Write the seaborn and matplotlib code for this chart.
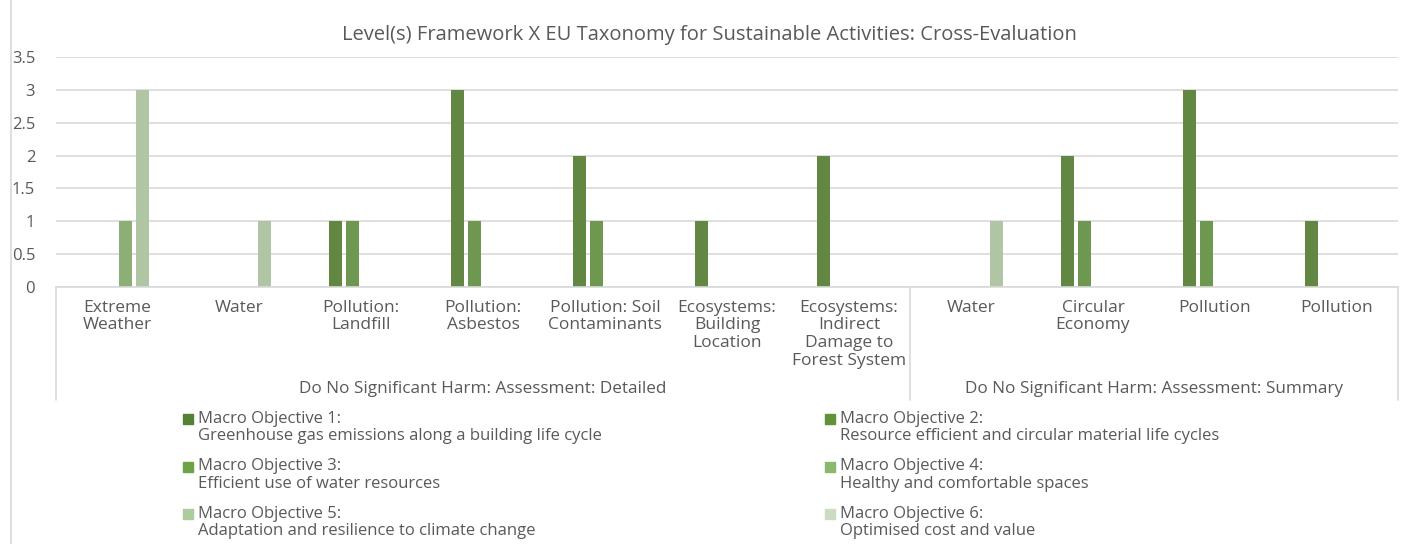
"""Cross-evaluation bar chart: Level(s) framework vs EU taxonomy"""

import pandas as pd
import matplotlib
matplotlib.use("Agg")
import matplotlib.pyplot as plt
import matplotlib.transforms as mtransforms
from matplotlib.lines import Line2D
from matplotlib.patches import Rectangle
import seaborn as sns

# categories (two-level axis)
categories = [
    "Extreme\nWeather", "Water", "Pollution:\nLandfill", "Pollution:\nAsbestos",
    "Pollution: Soil\nContaminants", "Ecosystems:\nBuilding\nLocation",
    "Ecosystems:\nIndirect\nDamage to\nForest System",
    "Water", "Circular\nEconomy", "Pollution", "Pollution",
]
groups = [
    "Do No Significant Harm: Assessment: Detailed",
    "Do No Significant Harm: Assessment: Summary",
]
group_sizes = [7, 4]

series_names = [
    "Macro Objective 1:\nGreenhouse gas emissions along a building life cycle",
    "Macro Objective 2:\nResource efficient and circular material life cycles",
    "Macro Objective 3:\nEfficient use of water resources",
    "Macro Objective 4:\nHealthy and comfortable spaces",
    "Macro Objective 5:\nAdaptation and resilience to climate change",
    "Macro Objective 6:\nOptimised cost and value",
]
mo1 = [0, 0, 0, 0, 0, 0, 0, 0, 0, 0, 0]
mo2 = [0, 0, 1, 3, 2, 1, 2, 0, 2, 3, 1]
mo3 = [0, 0, 1, 1, 1, 0, 0, 0, 1, 1, 0]
mo4 = [1, 0, 0, 0, 0, 0, 0, 0, 0, 0, 0]
mo5 = [3, 1, 0, 0, 0, 0, 0, 1, 0, 0, 0]
mo6 = [0, 0, 0, 0, 0, 0, 0, 0, 0, 0, 0]

colors = ["#548235", "#609238", "#6ca344", "#8ab96c", "#adcb9d", "#cbdcc3"]

keys = [f"c{i}" for i in range(len(categories))]
rows = []
for name, vals in zip(series_names, [mo1, mo2, mo3, mo4, mo5, mo6]):
    for k, v in zip(keys, vals):
        rows.append({"cat": k, "series": name, "value": v})
df = pd.DataFrame(rows)

W, H = 1409, 544
sns.set_theme(style="white")
plt.rcParams["font.family"] = ["Open Sans", "DejaVu Sans"]
txt = "#595959"
grid = "#d9d9d9"


def fx(x):
    return x / W


def fy(y):
    return 1 - y / H


fig = plt.figure(figsize=(W / 100, H / 100), dpi=100)
ax = fig.add_axes([fx(56), fy(287), fx(1398) - fx(56), fy(57) - fy(287)])

sns.barplot(
    data=df, x="cat", y="value", hue="series", order=keys,
    hue_order=series_names, palette=colors, width=0.82, gap=0.22,
    linewidth=0, legend=False, ax=ax,
)

ax.set_xlim(-0.5, len(keys) - 0.5)
ax.set_ylim(0, 3.5)
ax.set_yticks([0, 0.5, 1, 1.5, 2, 2.5, 3, 3.5])
ax.set_yticklabels(["0", "0.5", "1", "1.5", "2", "2.5", "3", "3.5"])
ax.yaxis.grid(True, color=grid, linewidth=1.2)
ax.set_axisbelow(True)
for s in ax.spines.values():
    s.set_visible(False)
ax.set_xlabel("")
ax.set_ylabel("")
ax.set_xticks(range(len(keys)))
ax.set_xticklabels(categories, color=txt, fontsize=12.5, linespacing=1.16)
ax.tick_params(axis="x", length=0, pad=9)
ax.tick_params(axis="y", length=0, pad=15, labelcolor=txt, labelsize=12)

# category box lines
for x0, y0, x1, y1 in [(56, 287, 1398, 287), (56, 287, 56, 400),
                       (910, 287, 910, 400), (1398, 287, 1398, 400),
                       (11, 0, 11, 544)]:
    fig.add_artist(Line2D([fx(x0), fx(x1)], [fy(y0), fy(y1)], color=grid, lw=1.2))

# group labels
trans = mtransforms.blended_transform_factory(ax.transData, fig.transFigure)
start = 0
for g, n in zip(groups, group_sizes):
    xc = start + (n - 1) / 2
    ax.text(xc, fy(389), g, transform=trans, ha="center", va="center",
            color=txt, fontsize=12.3)
    start += n

fig.text(fx(709), fy(35), "Level(s) Framework X EU Taxonomy for Sustainable Activities: Cross-Evaluation",
         ha="center", va="center", color=txt, fontsize=14.5)

# legend, two columns
for i, (name, c) in enumerate(zip(series_names, colors)):
    col, row = i % 2, i // 2
    px = 183 if col == 0 else 825
    py = 419 + row * 47.5
    fig.add_artist(Rectangle((fx(px), fy(py + 5)), fx(10), 10 / H, color=c))
    first, second = name.split("\n")
    fig.text(fx(px + 15), fy(py), first, ha="left", va="center", color=txt,
             fontsize=12)
    fig.text(fx(px + 15), fy(py + 17), second, ha="left", va="center",
             color=txt, fontsize=12)

fig.savefig("out.png", dpi=100)
